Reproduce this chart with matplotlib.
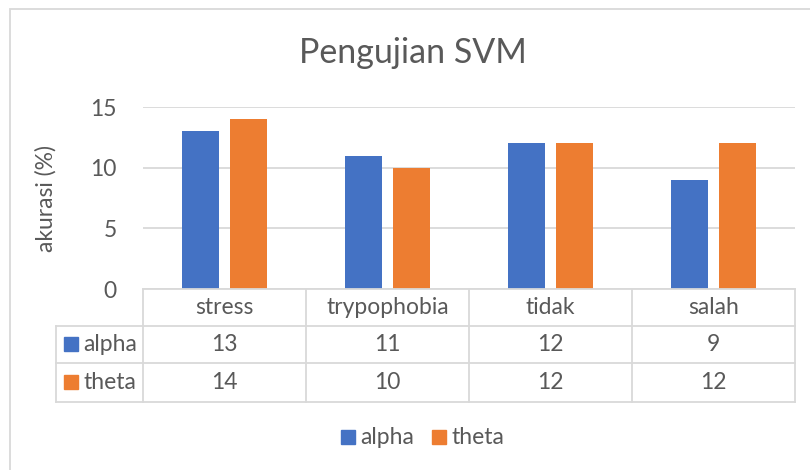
import numpy as np
import matplotlib
matplotlib.use("Agg")
import matplotlib.pyplot as plt
from matplotlib.lines import Line2D
from matplotlib.patches import Rectangle

categories = ["stress", "trypophobia", "tidak", "salah"]
series_names = ["alpha", "theta"]
alpha_vals = [13, 11, 12, 9]
theta_vals = [14, 10, 12, 12]
yticks = [0, 5, 10, 15]

colors = ["#4472C4", "#ED7D31"]
text_c = "#595959"
grid_c = "#D9D9D9"
fs = 16.5

plt.rcParams["font.family"] = ["Lato", "DejaVu Sans"]

W, H = 810, 470
fig = plt.figure(figsize=(W / 100, H / 100), dpi=100)


def fx(x):
    return x / W


def fy(y):
    return 1 - y / H


def hline(x0, x1, y, **kw):
    fig.add_artist(Line2D([fx(x0), fx(x1)], [fy(y), fy(y)], color=grid_c, lw=1.3, **kw))


def vline(x, y0, y1, **kw):
    fig.add_artist(Line2D([fx(x), fx(x)], [fy(y0), fy(y1)], color=grid_c, lw=1.3, **kw))


# chart border (right/bottom fall outside the image)
fig.add_artist(Rectangle((fx(10), fy(480)), fx(820), fy(9) - fy(480),
                         fill=False, edgecolor=grid_c, lw=1.3))

# plot area
left, right, top, bottom = 143, 795, 107, 289
ax = fig.add_axes([fx(left), fy(bottom), fx(right - left), fy(top) - fy(bottom)])
x = np.arange(len(categories))
bw = 0.227
off = 0.147
ax.bar(x - off, alpha_vals, bw, color=colors[0], zorder=3)
ax.bar(x + off, theta_vals, bw, color=colors[1], zorder=3)
ax.set_xlim(-0.5, len(categories) - 0.5)
ax.set_ylim(0, 15)
ax.set_yticks(yticks)
ax.set_xticks([])
ax.grid(axis="y", color=grid_c, lw=1.3, zorder=0)
for s in ax.spines.values():
    s.set_visible(False)
ax.tick_params(axis="y", length=0, pad=19, labelsize=fs, labelcolor=text_c)
ax.set_ylabel("akurasi (%)", fontsize=fs, color=text_c, labelpad=24)

fig.text(0.5 + fx(8), fy(53), "Pengujian SVM", ha="center", va="center",
         fontsize=24.5, color=text_c)

# data table
rows = [289, 325.5, 363, 401.5]
col_edges = [left + (right - left) * i / len(categories) for i in range(len(categories) + 1)]
hline(left, right, rows[0])
for r in rows[1:]:
    hline(55.7, right, r)
vline(55.7, rows[1], rows[3])
for c in col_edges:
    vline(c, rows[0], rows[3])

for i, cat in enumerate(categories):
    cx = (col_edges[i] + col_edges[i + 1]) / 2
    fig.text(fx(cx), fy((rows[0] + rows[1]) / 2), cat, ha="center", va="center",
             fontsize=fs, color=text_c)
    for j, vals in enumerate([alpha_vals, theta_vals]):
        fig.text(fx(cx), fy((rows[j + 1] + rows[j + 2]) / 2), str(vals[i]),
                 ha="center", va="center", fontsize=fs, color=text_c)

for j, name in enumerate(series_names):
    cy = (rows[j + 1] + rows[j + 2]) / 2
    fig.add_artist(Rectangle((fx(64), fy(cy + 7)), fx(14), fy(cy - 7) - fy(cy + 7),
                             color=colors[j]))
    fig.text(fx(83), fy(cy), name, ha="left", va="center", fontsize=fs, color=text_c)

# legend
leg_x = [341, 432]
for j, name in enumerate(series_names):
    fig.add_artist(Rectangle((fx(leg_x[j]), fy(444)), fx(14), fy(430) - fy(444),
                             color=colors[j]))
    fig.text(fx(leg_x[j] + 19), fy(437), name, ha="left", va="center",
             fontsize=fs, color=text_c)

fig.savefig("out.png", dpi=100)
